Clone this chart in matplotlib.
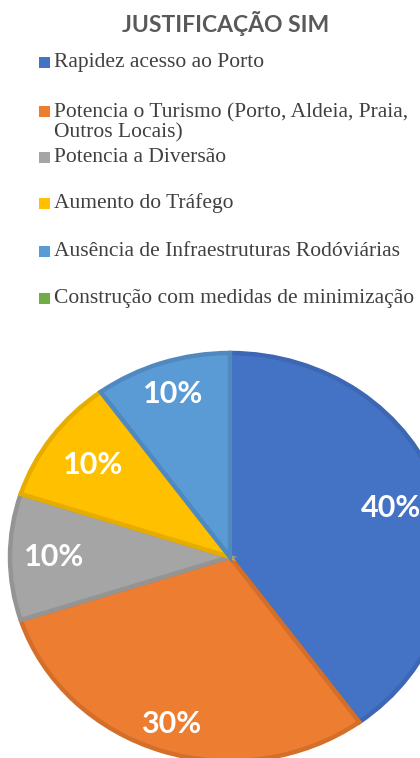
import matplotlib
matplotlib.use("Agg")
import matplotlib.pyplot as plt
from matplotlib.patches import Rectangle
import numpy as np

title = "JUSTIFICAÇÃO SIM"
categories = [
    "Rapidez acesso ao Porto",
    "Potencia o Turismo (Porto, Aldeia, Praia,\nOutros Locais)",
    "Potencia a Diversão",
    "Aumento do Tráfego",
    "Ausência de Infraestruturas Rodóviárias",
    "Construção com medidas de minimização",
]
values = [40, 30, 10, 10, 10, 0]
fill_colors = ["#4472C4", "#ED7D31", "#A5A5A5", "#FFC000", "#5B9BD5", "#70AD47"]
edge_colors = ["#3D67B3", "#D46F2A", "#949494", "#E6AC00", "#5089C0", "#649C3F"]

W, H = 420, 758
fig = plt.figure(figsize=(W / 100, H / 100), dpi=100)

# pie axes: slightly stretched horizontally like the reference
cx, cy = 230, 557
rx, ry = 220, 204
ax = fig.add_axes([0, 0, 1, 1])

shown = [i for i, v in enumerate(values) if v > 0]
wedges, texts, autotexts = ax.pie(
    [values[i] for i in shown], colors=[fill_colors[i] for i in shown],
    startangle=90, counterclock=False,
    radius=1.0, center=(0, 0), frame=True,
    autopct=lambda p: f"{p:.0f}%",
    pctdistance=0.8,
    wedgeprops=dict(linewidth=3.2, joinstyle="miter"),
    textprops=dict(color="white", fontsize=22, fontweight="bold", family="Lato"),
)
ax.set_xlim(-cx / rx, (W - cx) / rx)
ax.set_ylim(-(H - cy) / ry, cy / ry)
ax.set_aspect("auto")
ax.axis("off")
for w, i in zip(wedges, shown):
    w.set_edgecolor(edge_colors[i])

# best-fit style label distances (Excel places them slightly differently)
label_dist = [0.77, 0.86, 0.8, 0.77, 0.84]
for t, w, d in zip(autotexts, wedges, label_dist):
    ang = np.deg2rad((w.theta1 + w.theta2) / 2)
    t.set_position((d * np.cos(ang), d * np.sin(ang)))

# title
fig.text(226 / W, 1 - 23 / H, title, ha="center", va="center",
         fontsize=16.5, fontweight="bold", color="#595959", family="Lato")

# legend (manual, like Excel layout)
leg_y = [62, 123, 157, 203, 251, 298]
sq_y = [62, 111, 157, 203, 251, 298]
for lab, col, yy, sy in zip(categories, fill_colors, leg_y, sq_y):
    fig.add_artist(Rectangle((39 / W, 1 - (sy + 6) / H), 11 / W, 11 / H,
                             transform=fig.transFigure, facecolor=col,
                             edgecolor="none"))
    fig.text(54 / W, 1 - yy / H, lab, ha="left", va="center",
             fontsize=15.5, color="#404040", family="Liberation Serif",
             linespacing=1.05)

fig.savefig("out.png", dpi=100)
